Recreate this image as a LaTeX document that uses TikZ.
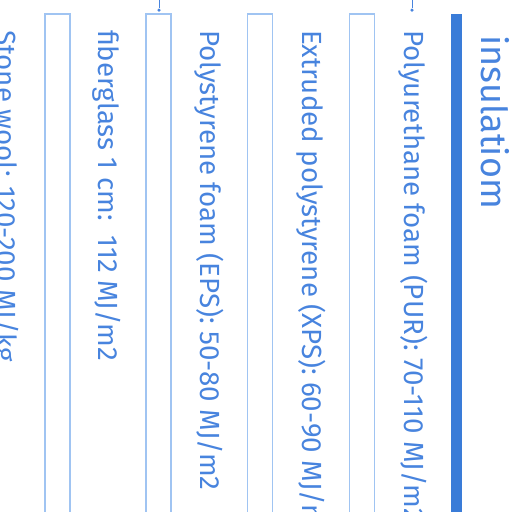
\documentclass[tikz,border=0pt]{standalone}
\usepackage{fontspec}
\setmainfont{Fira Sans}
\usetikzlibrary{positioning}
\definecolor{Ink}{RGB}{72, 132, 222}
\definecolor{Bar}{RGB}{58, 124, 216}
\definecolor{Frame}{RGB}{160, 196, 242}

\begin{document}
\begin{tikzpicture}[
        x=1pt, y=-1pt,
        every node/.style={inner sep=0pt, outer sep=0pt},
        entry/.style={rotate=-90, anchor=base west, text=Ink, font=\fontsize{27.7}{32}\selectfont},
        frame/.style={draw=Frame, line width=1.2pt, anchor=north west, minimum width=25pt, minimum height=560pt},
        knob/.style={circle, fill=Ink, minimum size=3.5pt}
    ]
        \clip (0, 0) rectangle (512, 512);

        % Title
        \node[rotate=-90, anchor=base west, text=Ink, font=\fontsize{36}{40}\selectfont] (title) at (481, 35) {insulatiom};
        \fill[Bar] (451, 14) rectangle (462, 530);

        % Entries
        \node[entry] (pur) at (404, 30) {Polyurethane foam (PUR): 70-110 MJ/m2};
        \node[entry] (xps) at (302, 30) {Extruded polystyrene (XPS): 60-90 MJ/m2};
        \node[entry] (eps) at (200, 30) {Polystyrene foam (EPS): 50-80 MJ/m2};
        \node[entry] (glass) at (98, 30) {fiberglass 1 cm:\ \ 112 MJ/m2};
        \node[entry] (wool) at (-3, 30) {Stone wool: 120-200 MJ/kg};

        % Boxes
        \node[frame] (box1) at (349.5, 14) {};
        \node[frame] (box2) at (247.5, 14) {};
        \node[frame] (box3) at (146, 14) {};
        \node[frame] (box4) at (45, 14) {};

        % Links
        \coordinate (in1) at (412, 0);
        \coordinate (in2) at (159, 0);
        \node[knob] (dot1) at (412, 10) {};
        \node[knob] (dot2) at (159, 10) {};
        \draw[Ink, line width=0.8pt] (in1) -- (dot1);
        \draw[Ink, line width=0.8pt] (in2) -- (dot2);
    \end{tikzpicture}
\end{document}
